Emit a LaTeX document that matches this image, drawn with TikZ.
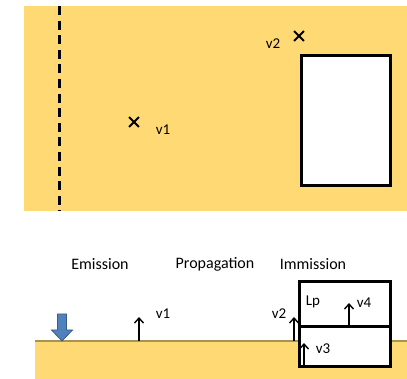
\documentclass[tikz,border=0pt]{standalone}
\usepackage{fontspec}
\setmainfont{Carlito}
\usetikzlibrary{arrows.meta,shapes.misc}
\definecolor{gold}{RGB}{255,217,115}
\definecolor{groundline}{RGB}{168,148,82}
\definecolor{bluefill}{RGB}{79,129,189}
\definecolor{blueedge}{RGB}{56,93,138}
\tikzset{
  heading/.style={inner sep=0pt,font=\fontsize{16}{18}\selectfont},
  vlabel/.style={inner sep=0pt,font=\fontsize{15}{17}\selectfont},
  crossmark/.style={cross out,draw=black,line width=1.8pt,minimum size=8pt,inner sep=0pt},
  varrow/.style={line width=1.4pt,-{Straight Barb[length=5pt,width=9pt,line width=1.4pt]}},
  wall/.style={line width=3pt,line join=miter},
}
\begin{document}
\begin{tikzpicture}[x=1pt,y=-1pt]
\useasboundingbox (0,0) rectangle (407,379);
% ---------- top panel ----------
\fill[gold] (24,6) rectangle (407,211);
\draw[line width=3pt,dash pattern=on 9pt off 5.6pt] (59,6) -- (59,211);
\draw[wall,fill=white] (301,56) rectangle (390,186);
\node[crossmark] (x1) at (134,122) {};
\node[vlabel] (lx1) at (163,130) {v1};
\node[crossmark] (x2) at (299,36) {};
\node[vlabel] (lx2) at (273,44) {v2};
% ---------- bottom panel ----------
\node[heading] (em) at (100,264) {Emission};
\node[heading] (pr) at (215,264) {Propagation};
\node[heading] (im) at (313,264) {Immission};
\fill[gold] (35,341) rectangle (407,379);
\draw[groundline,line width=1.2pt] (35,341) -- (407,341);
% building
\draw[wall,fill=white] (299,282) rectangle (390,366);
\draw[wall] (299,327) -- (390,327);
% blue arrow
\draw[fill=bluefill,draw=blueedge,line width=0.8pt,line join=miter]
  (57.5,314) -- (66.5,314) -- (66.5,330) -- (72.5,330) -- (62,341) -- (51.5,330) -- (57.5,330) -- cycle;
% v arrows
\coordinate (a1b) at (139,341); \coordinate (a1t) at (139,317);
\coordinate (a2b) at (294,341); \coordinate (a2t) at (294,317);
\coordinate (a3b) at (304,366); \coordinate (a3t) at (304,343);
\coordinate (a4b) at (349,327); \coordinate (a4t) at (349,303);
\draw[varrow] (a1b) -- (a1t);
\draw[varrow] (a2b) -- (a2t);
\draw[varrow] (a3b) -- (a3t);
\draw[varrow] (a4b) -- (a4t);
\node[vlabel] (l1) at (163,314) {v1};
\node[vlabel] (l2) at (279,314) {v2};
\node[vlabel] (l3) at (323,349) {v3};
\node[vlabel] (l4) at (364,303) {v4};
\node[vlabel] (lp) at (313,302) {Lp};
\end{tikzpicture}
\end{document}
